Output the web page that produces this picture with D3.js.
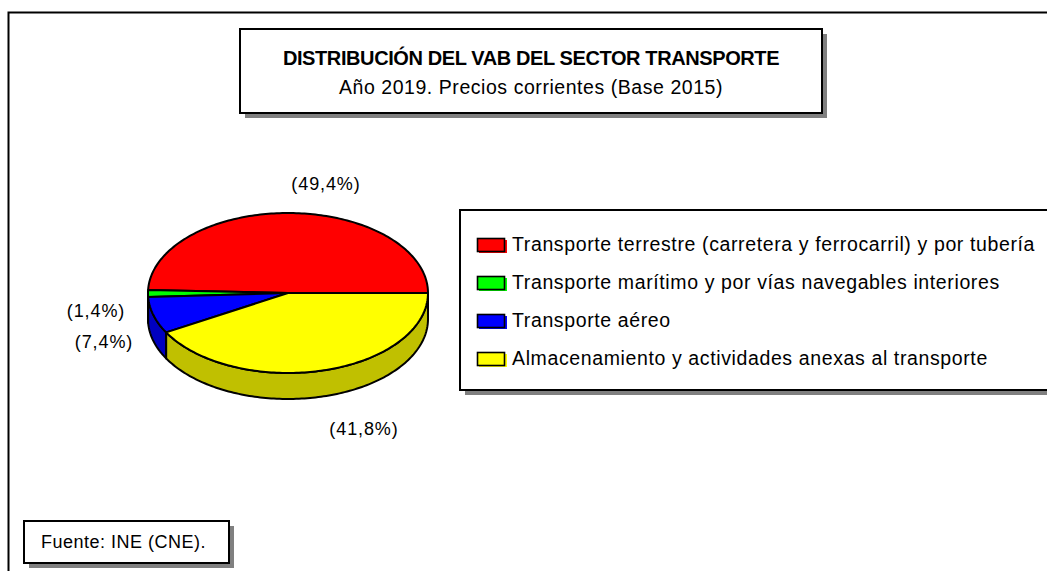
<!DOCTYPE html>
<html>
<head>
<meta charset="utf-8">
<script src="https://cdn.jsdelivr.net/npm/d3@7"></script>
<style>
  body { margin: 0; background: #fff; }
  svg { font-family: "Liberation Sans", Arial, sans-serif; }
</style>
</head>
<body>
<svg class="mysvg"></svg>
<script>
// Data
const categories = [
  "Transporte terrestre (carretera y ferrocarril) y por tubería",
  "Transporte marítimo y por vías navegables interiores",
  "Transporte aéreo",
  "Almacenamiento y actividades anexas al transporte",
];
const values = [49.4, 1.4, 7.4, 41.8];
const pctLabels = ["(49,4%)", "(1,4%)", "(7,4%)", "(41,8%)"];
const topColors = ["#ff0000", "#00ff00", "#0000ff", "#ffff00"];
const sideColors = ["#c00000", "#00c000", "#0000c0", "#c0c000"];

const width = 1047, height = 571;
const svg = d3.select(".mysvg").attr("width", width).attr("height", height);

// outer frame (runs off the right and bottom)
svg.append("rect")
  .attr("x", 8.5).attr("y", 12.5)
  .attr("width", width + 20).attr("height", height + 20)
  .attr("fill", "none").attr("stroke", "#000").attr("stroke-width", 2);

// box with grey drop shadow
function shadowBox(x, y, w, h) {
  svg.append("rect").attr("x", x + 5).attr("y", y + 5).attr("width", w).attr("height", h)
    .attr("fill", "#808080");
  svg.append("rect").attr("x", x).attr("y", y).attr("width", w).attr("height", h)
    .attr("fill", "#fff").attr("stroke", "#000").attr("stroke-width", 2);
}

// Title
shadowBox(240, 29, 582, 84);
svg.append("text").attr("x", 531).attr("y", 65)
  .attr("text-anchor", "middle").style("font-size", "20px").style("font-weight", "bold")
  .style("letter-spacing", "-0.4px")
  .text("DISTRIBUCIÓN DEL VAB DEL SECTOR TRANSPORTE");
svg.append("text").attr("x", 531).attr("y", 94)
  .attr("text-anchor", "middle").style("font-size", "19.5px")
  .style("letter-spacing", "0.55px")
  .text("Año 2019. Precios corrientes (Base 2015)");

// 3D pie
const cx = 288, cy = 293, rx = 140, ry = 80, depth = 26;
const pie = d3.pie().sort(null).startAngle(Math.PI / 2).endAngle(Math.PI / 2 - 2 * Math.PI);
const arcs = pie(values);

const px = (a) => cx + rx * Math.sin(a);
const py = (a) => cy - ry * Math.cos(a);
const line = d3.line();

function arcPoints(a0, a1, dy) {
  const n = Math.max(2, Math.ceil(Math.abs(a1 - a0) / 0.02));
  return d3.range(n + 1).map((i) => {
    const a = a0 + (a1 - a0) * i / n;
    return [px(a), py(a) + dy];
  });
}

const pieG = svg.append("g");

// side walls: visible where the rim faces the viewer (cos(a) < 0)
arcs.forEach((d, i) => {
  const lo = Math.min(d.startAngle, d.endAngle);
  const hi = Math.max(d.startAngle, d.endAngle);
  [[Math.PI / 2, 3 * Math.PI / 2], [-3 * Math.PI / 2, -Math.PI / 2]].forEach(([f0, f1]) => {
    const s = Math.max(lo, f0), e = Math.min(hi, f1);
    if (e - s > 1e-4) {
      const top = arcPoints(s, e, 0);
      const bottom = arcPoints(e, s, depth);
      pieG.append("path")
        .attr("d", line(top.concat(bottom)) + "Z")
        .attr("fill", sideColors[i])
        .attr("stroke", "#000").attr("stroke-width", 2).attr("stroke-linejoin", "round");
    }
  });
});

// top faces
arcs.forEach((d, i) => {
  const pts = [[cx, cy]].concat(arcPoints(d.startAngle, d.endAngle, 0));
  pieG.append("path")
    .attr("d", line(pts) + "Z")
    .attr("fill", topColors[i])
    .attr("stroke", "#000").attr("stroke-width", 2).attr("stroke-linejoin", "round");
});

// percentage labels
const labelPos = [[326, 190], [96, 317], [104, 348], [364, 435]];
svg.selectAll(".pct")
  .data(pctLabels)
  .enter()
  .append("text")
  .attr("class", "pct")
  .attr("x", (d, i) => labelPos[i][0])
  .attr("y", (d, i) => labelPos[i][1])
  .attr("text-anchor", "middle")
  .style("font-size", "18px")
  .style("letter-spacing", "0.9px")
  .text((d) => d);

// Legend
shadowBox(460, 210, 620, 180);
const legend = svg.append("g");
const rowY = (i) => 238 + i * 38;
legend.selectAll(".sw-shadow")
  .data(categories)
  .enter()
  .append("rect")
  .attr("x", 479).attr("y", (d, i) => rowY(i) + 2)
  .attr("width", 28).attr("height", 13)
  .attr("fill", (d, i) => topColors[i]);
legend.selectAll(".sw")
  .data(categories)
  .enter()
  .append("rect")
  .attr("x", 477.5).attr("y", (d, i) => rowY(i) + 0.5)
  .attr("width", 27).attr("height", 13)
  .attr("fill", (d, i) => topColors[i])
  .attr("stroke", "#000").attr("stroke-width", 1.6);
legend.selectAll("text")
  .data(categories)
  .enter()
  .append("text")
  .attr("x", 512)
  .attr("y", (d, i) => rowY(i) + 13)
  .style("font-size", "19.5px")
  .style("letter-spacing", "0.62px")
  .text((d) => d);

// Source
shadowBox(24, 521, 205, 42);
svg.append("text").attr("x", 41).attr("y", 548)
  .style("font-size", "18px")
  .style("letter-spacing", "0.5px")
  .text("Fuente: INE (CNE).");
</script>
</body>
</html>
